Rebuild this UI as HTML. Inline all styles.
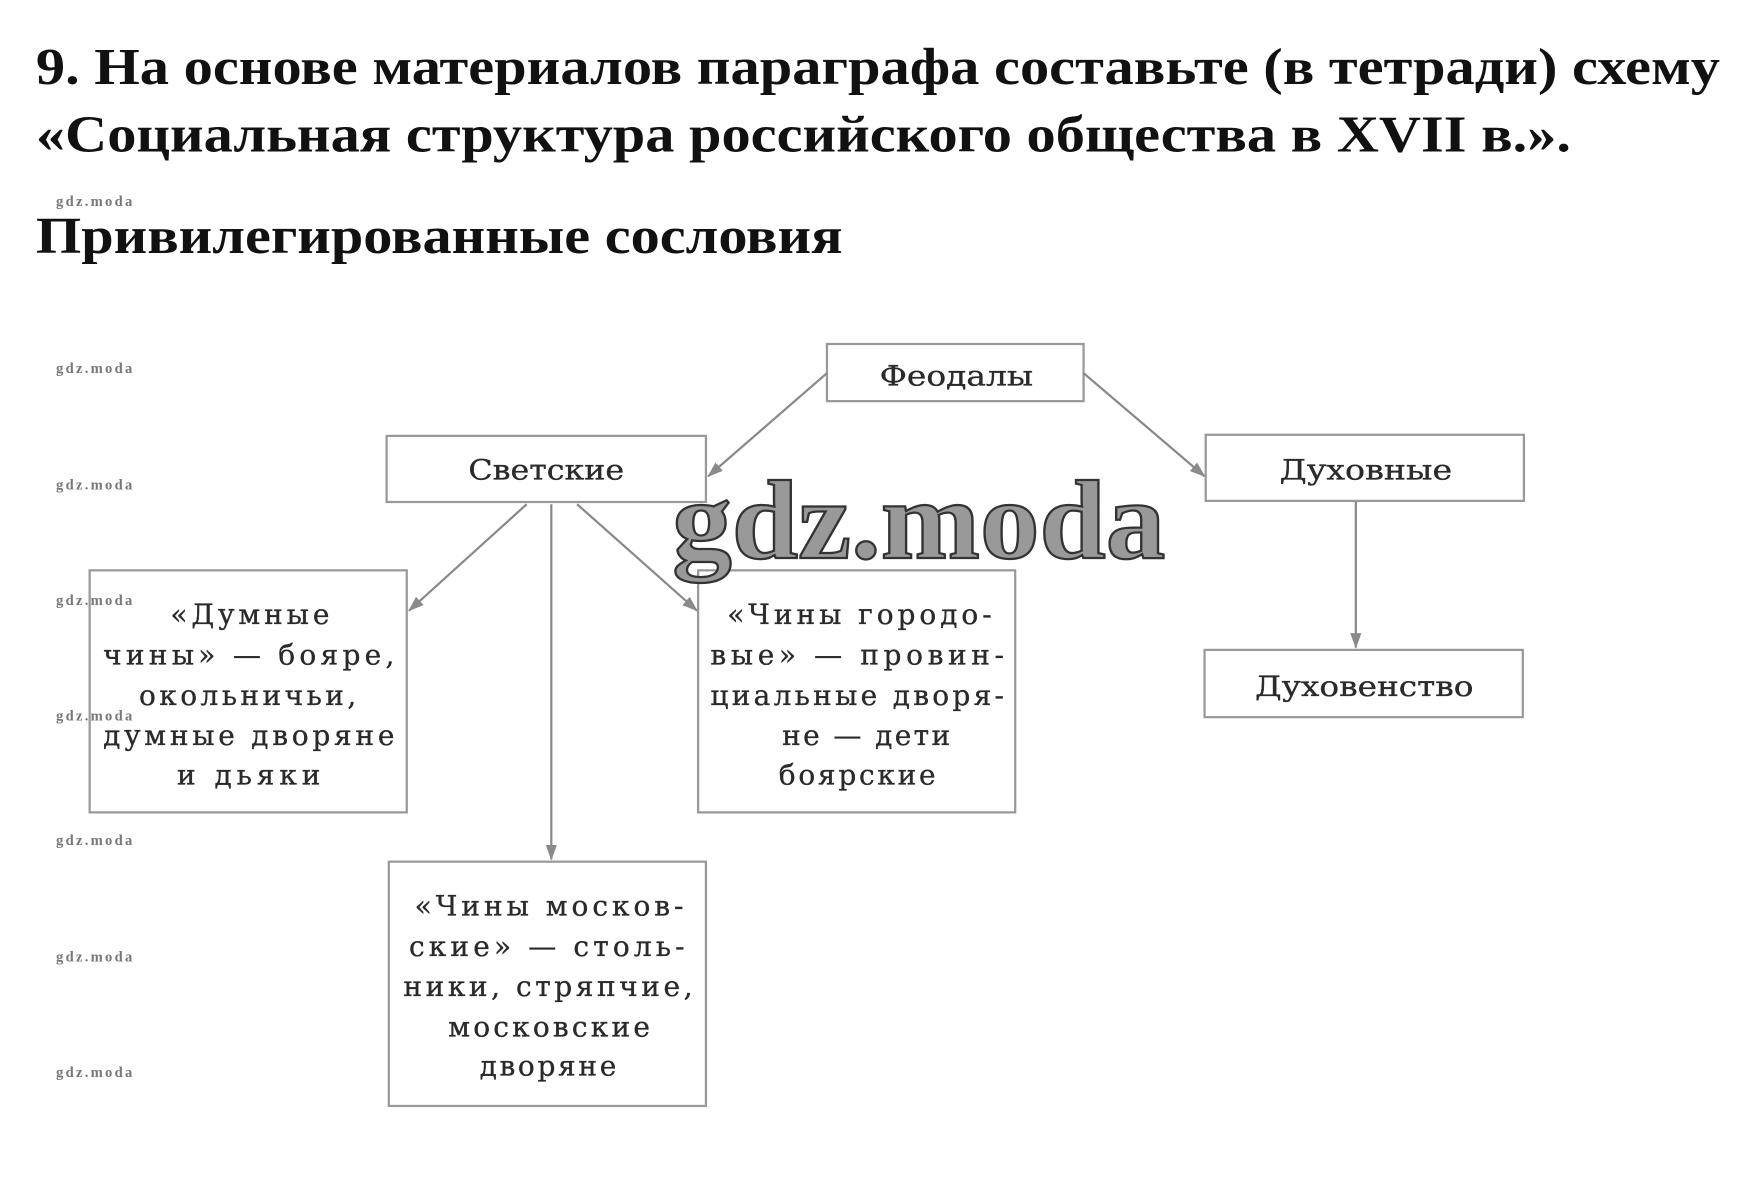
<!DOCTYPE html>
<html><head><meta charset="utf-8"><style>html,body{margin:0;padding:0;background:#fff}svg{display:block}</style></head>
<body>
<svg width="1757" height="1178" viewBox="0 0 1568 1051.3" xmlns="http://www.w3.org/2000/svg" font-family="'Liberation Serif', 'DejaVu Serif', serif">
<defs><marker id="a" markerWidth="14" markerHeight="10" refX="13" refY="5" orient="auto" markerUnits="userSpaceOnUse"><path d="M0,0 L14,5 L0,10 Z" fill="#8a8a8a"/></marker></defs>
<g font-weight="bold" font-size="46" fill="#111">
<text x="32" y="75" textLength="1503" lengthAdjust="spacingAndGlyphs">9. На основе материалов параграфа составьте (в тетради) схему</text>
<text x="32" y="135" textLength="1370" lengthAdjust="spacingAndGlyphs">«Социальная структура российского общества в XVII в.».</text>
<text x="32" y="226" textLength="720" lengthAdjust="spacingAndGlyphs">Привилегированные сословия</text>
</g>
<g fill="#fff" stroke="#999" stroke-width="2">
<rect x="738" y="307" width="229" height="51"/>
<rect x="345" y="389" width="285" height="59"/>
<rect x="1076" y="388" width="284" height="59"/>
<rect x="1075" y="580" width="284" height="60"/>
<rect x="80" y="509" width="283" height="216"/>
<rect x="623" y="509" width="283" height="216"/>
<rect x="347" y="769" width="283" height="218"/>
</g>
<g stroke="#8a8a8a" stroke-width="2" marker-end="url(#a)">
<line x1="738" y1="333" x2="632" y2="425"/>
<line x1="967" y1="333" x2="1075" y2="425"/>
<line x1="470" y1="450" x2="365" y2="545"/>
<line x1="492" y1="450" x2="492" y2="767"/>
<line x1="515" y1="450" x2="622" y2="545"/>
<line x1="1210" y1="447" x2="1210" y2="578"/>
</g>
<text x="600" y="498" font-size="100" font-weight="bold" fill="#999" stroke="#333" stroke-width="2" textLength="440" lengthAdjust="spacingAndGlyphs">gdz.moda</text>
<g font-size="25" fill="#2a2a2a" stroke="#2a2a2a" stroke-width="0.3" font-family="'DejaVu Serif', serif">
<text x="785" y="344" textLength="137" lengthAdjust="spacingAndGlyphs">Феодалы</text>
<text x="418" y="428" textLength="139" lengthAdjust="spacingAndGlyphs">Светские</text>
<text x="1142" y="428" textLength="154" lengthAdjust="spacingAndGlyphs">Духовные</text>
<text x="1120" y="621" textLength="195" lengthAdjust="spacingAndGlyphs">Духовенство</text>
<text x="152" y="557" textLength="142" lengthAdjust="spacing">«Думные</text>
<text x="92" y="593" textLength="260" lengthAdjust="spacing">чины» — бояре,</text>
<text x="124" y="629" textLength="194" lengthAdjust="spacing">окольничьи,</text>
<text x="92" y="665" textLength="260" lengthAdjust="spacing">думные дворяне</text>
<text x="158" y="700" textLength="128" lengthAdjust="spacing">и дьяки</text>
<text x="649" y="557" textLength="236" lengthAdjust="spacing">«Чины городо-</text>
<text x="634" y="593" textLength="262" lengthAdjust="spacing">вые» — провин-</text>
<text x="634" y="629" textLength="262" lengthAdjust="spacing">циальные дворя-</text>
<text x="698" y="665" textLength="150" lengthAdjust="spacing">не — дети</text>
<text x="695" y="700" textLength="140" lengthAdjust="spacing">боярские</text>
<text x="370" y="817" textLength="240" lengthAdjust="spacing">«Чины москов-</text>
<text x="365" y="853" textLength="246" lengthAdjust="spacing">ские» — столь-</text>
<text x="360" y="889" textLength="258" lengthAdjust="spacing">ники, стряпчие,</text>
<text x="400" y="925" textLength="180" lengthAdjust="spacing">московские</text>
<text x="428" y="960" textLength="122" lengthAdjust="spacing">дворяне</text>
</g>
<g font-size="13" fill="#777" font-weight="bold">
<text x="50" y="184" textLength="68">gdz.moda</text><text x="50" y="333" textLength="68">gdz.moda</text><text x="50" y="437" textLength="68">gdz.moda</text><text x="50" y="540" textLength="68">gdz.moda</text><text x="50" y="643" textLength="68">gdz.moda</text><text x="50" y="754" textLength="68">gdz.moda</text><text x="50" y="858" textLength="68">gdz.moda</text><text x="50" y="961" textLength="68">gdz.moda</text>
</g>
</svg>
</body></html>
